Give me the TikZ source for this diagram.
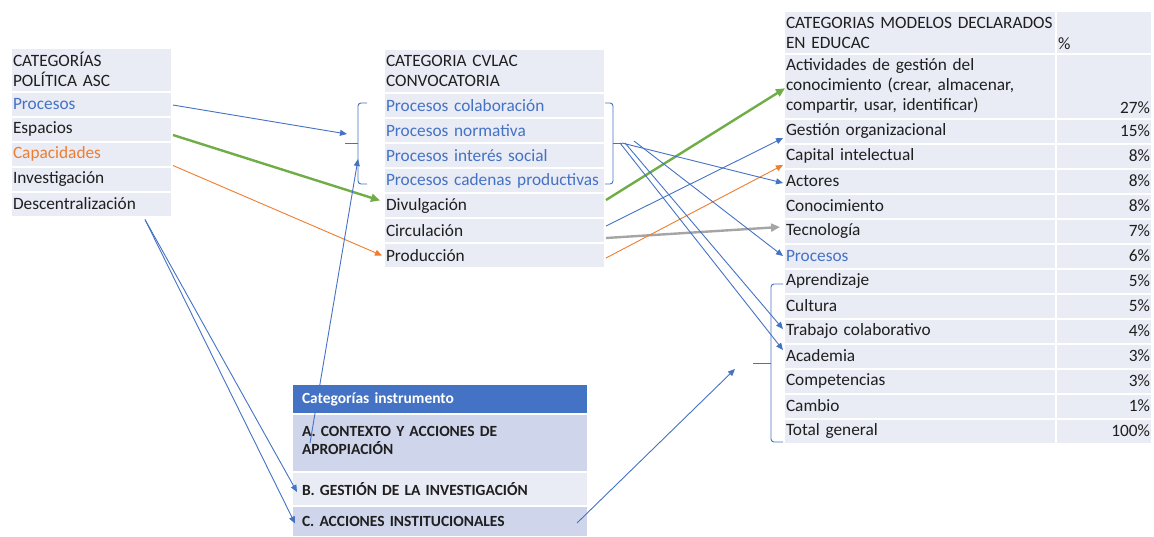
\documentclass[tikz,border=0pt]{standalone}
\usepackage{fontspec}
\setmainfont{Carlito}
\usetikzlibrary{arrows.meta}
\definecolor{cellbg}{HTML}{E9EBF5}
\definecolor{celldark}{HTML}{CFD5EA}
\definecolor{officeblue}{HTML}{4472C4}
\definecolor{officeorange}{HTML}{ED7D31}
\definecolor{officegreen}{HTML}{70AD47}
\definecolor{officegray}{HTML}{A5A5A5}
\definecolor{ink}{HTML}{1F1F1F}

\begin{document}
\begin{tikzpicture}[x=1pt, y=-1pt,
  cell/.style={anchor=north west, fill=cellbg, draw=white, line width=2pt, inner xsep=2pt, inner ysep=0pt,
    align=left, text=ink, font=\fontsize{17.3}{20}\selectfont},
  colA/.style={cell, text width=157pt, minimum height=25pt},
  colB/.style={cell, text width=217pt, minimum height=25pt},
  colC/.style={cell, text width=268pt, minimum height=25pt},
  colP/.style={cell, text width=92pt, minimum height=25pt, align=right},
  inst/.style={anchor=north west, fill=celldark, draw=white, line width=2pt, inner xsep=10pt, inner ysep=0pt,
    align=left, text width=276pt, text=ink, font=\fontsize{15.5}{18.5}\selectfont\bfseries},
  arrowline/.style={-{Triangle[length=7pt,width=6pt]}, line width=0.9pt, officeblue},
  heavyarrow/.style={-{Triangle[length=9pt,width=8pt]}, line width=2.4pt},
  bracketline/.style={officeblue, line width=0.9pt, rounded corners=3pt}]
\useasboundingbox (0,0) rectangle (1154,536);

% politica ASC
\node[colA, minimum height=43.5pt] (headA) at (10,47) {CATEGORÍAS\\POLÍTICA ASC};
\node[colA, text=officeblue] (procA) at (10,90.5) {Procesos};
\node[colA] (espA) at (10,115.5) {Espacios};
\node[colA, text=officeorange] (capA) at (10,140.5) {Capacidades};
\node[colA] (invA) at (10,165.5) {Investigación};
\node[colA] (descA) at (10,190.5) {Descentralización};

% CVLAC
\node[colB, minimum height=44pt] (headB) at (383,48) {CATEGORIA CVLAC\\CONVOCATORIA};
\node[colB, text=officeblue] (pcolB) at (383,92) {Procesos colaboración};
\node[colB, text=officeblue] (pnorB) at (383,117) {Procesos normativa};
\node[colB, text=officeblue] (pintB) at (383,142) {Procesos interés social};
\node[colB, text=officeblue] (pcadB) at (383,167) {Procesos cadenas productivas};
\node[colB] (divB) at (383,192) {Divulgación};
\node[colB] (circB) at (383,217) {Circulación};
\node[colB] (prodB) at (383,242) {Producción};

% modelos EDUCAC
\node[colC, minimum height=43pt] (headC) at (783,10) {CATEGORIAS MODELOS DECLARADOS\\EN EDUCAC};
\node[colP, minimum height=43pt, align=left] (headP) at (1055,10) {\strut\\\%};
\node[colC, minimum height=64.5pt] (gcR) at (783,53) {Actividades de gestión del\\conocimiento (crear, almacenar,\\compartir, usar, identificar)};
\node[colP, minimum height=64.5pt] (gcP) at (1055,53) {\strut\\\strut\\27\%};
\foreach \nm/\txt/\pc [count=\i from 0] in {ges/Gestión organizacional/15, cap/Capital intelectual/8,
    act/Actores/8, con/Conocimiento/8, tec/Tecnología/7, pro/\textcolor{officeblue}{Procesos}/6,
    apr/Aprendizaje/5, cul/Cultura/5, tra/Trabajo colaborativo/4, aca/Academia/3,
    com/Competencias/3, cam/Cambio/1, tot/Total general/100}{
  \node[colC] (\nm R) at (783,{117.5+25*\i}) {\txt};
  \node[colP] (\nm P) at (1055,{117.5+25*\i}) {\pc\%};
}

% instrumento
\node[inst, fill=officeblue, text=white, minimum height=30pt] (insH) at (291,383) {Categorías instrumento};
\node[inst, minimum height=58pt] (insA) at (291,413) {};
\node[inst, fill=none, draw=none, anchor=north west] (insAtxt) at ([yshift=-12pt]insA.north west) {A. CONTEXTO Y ACCIONES DE\\APROPIACIÓN};
\node[inst, fill=cellbg, minimum height=34pt] (insB) at (291,471) {B. GESTIÓN DE LA INVESTIGACIÓN};
\node[inst, minimum height=31pt] (insC) at (291,505) {C. ACCIONES INSTITUCIONALES};

% brackets
\draw[bracketline] (367,103) -- (358,103) -- (358,184) -- (367,184);
\draw[bracketline] (358,143) -- (345,143);
\draw[bracketline] (605,103) -- (613,103) -- (613,184) -- (605,184);
\draw[bracketline] (613,143) -- (622,143);
\draw[bracketline] (783,284) -- (771,284) -- (771,442) -- (783,442);
\draw[bracketline] (771,363) -- (753,363);
\coordinate (brLin) at (347,134);
\coordinate (brLup) at (358,159);
\coordinate (brRout) at (622,143);
\coordinate (brDin) at (735,369);

% arrows
\draw[arrowline] ([yshift=-1pt]procA.east) -- (brLin);
\draw[heavyarrow, officegreen] ([yshift=-6pt]espA.east) -- ([xshift=-3pt,yshift=5pt]divB.west);
\draw[arrowline, officeorange] ([yshift=2pt]capA.south east) -- ([xshift=-1pt]prodB.west);
\draw[arrowline] ([xshift=-28pt,yshift=-2pt]descA.south east) -- ([xshift=6pt,yshift=-3pt]insB.west);
\draw[arrowline] ([xshift=-28pt,yshift=-2pt]descA.south east) -- ([xshift=4pt,yshift=-2pt]insC.west);
\draw[arrowline] ([xshift=19pt]insA.west) -- (brLup);
\draw[heavyarrow, officegreen] ([yshift=5.5pt]divB.east) -- ([xshift=2pt,yshift=-2pt]gcR.west);
\draw[arrowline] ([yshift=4.5pt]circB.east) -- ([yshift=-7pt]gesR.west);
\draw[heavyarrow, officegray] ([yshift=-7.5pt]circB.east) -- ([xshift=-3pt,yshift=4pt]tecR.west);
\draw[arrowline, officeorange] ([yshift=-2.5pt]prodB.east) -- ([yshift=-9pt]capR.west);
\draw[arrowline] (brRout) -- ([yshift=-2pt]actR.west);
\draw[arrowline] ([xshift=12pt,yshift=2pt]brRout) -- (proR.west);
\draw[arrowline] ([xshift=3pt]brRout) -- ([yshift=2pt]traR.west);
\draw[arrowline] ([xshift=-2pt]brRout) -- ([yshift=6pt]acaR.west);
\draw[arrowline] ([xshift=-12pt,yshift=-1.5pt]insC.east) -- (brDin);
\end{tikzpicture}
\end{document}
